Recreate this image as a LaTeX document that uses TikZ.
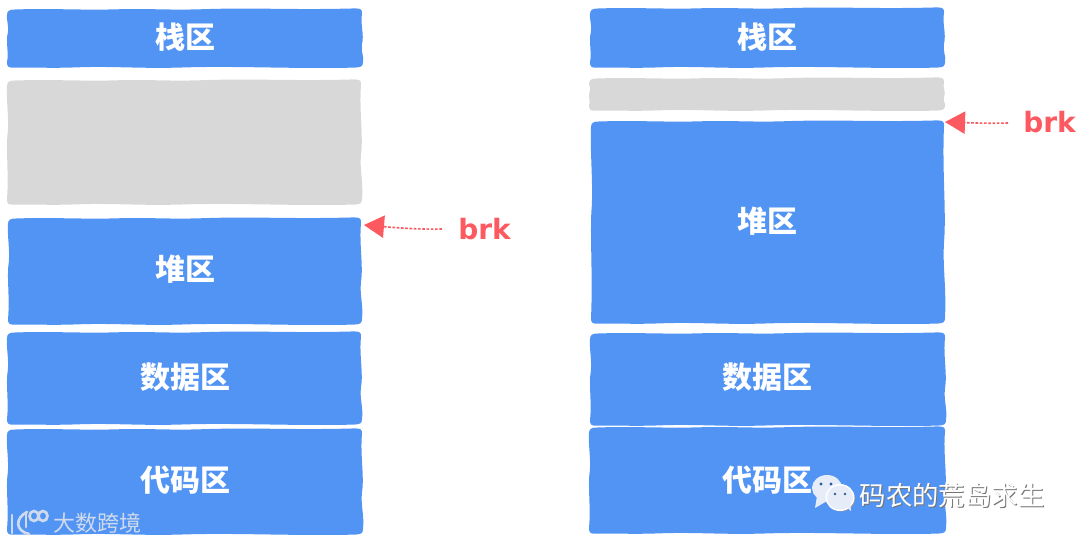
\documentclass[tikz,border=0pt]{standalone}
\usepackage{fontspec}
\usetikzlibrary{arrows.meta}
\setmainfont{DejaVu Sans}
\newfontfamily\cjk{Noto Sans CJK SC}
\definecolor{zblue}{HTML}{5294F4}
\definecolor{zgray}{HTML}{D8D8D8}
\definecolor{zred}{HTML}{FC5A60}
\definecolor{zmark}{HTML}{CFDAEC}
\definecolor{zbub}{HTML}{E6EDF9}
% wobbly box: x1 y1 x2 y2 colour
\newcommand{\wobbox}[5]{%
 \pgfmathsetmacro{\xa}{#1}\pgfmathsetmacro{\ya}{#2}\pgfmathsetmacro{\xb}{#3}\pgfmathsetmacro{\yb}{#4}%
 \pgfmathsetmacro{\w}{\xb-\xa}\pgfmathsetmacro{\h}{\yb-\ya}%
 \fill[#5] (\xa+8,\ya+1.5) .. controls (\xa+0.12*\w,\ya+0.2) and (\xa+0.2*\w,\ya+2.2) .. (\xa+0.3*\w,\ya+1.4)
  .. controls (\xa+0.4*\w,\ya+0.2) and (\xa+0.45*\w,\ya+2.4) .. (\xa+0.55*\w,\ya+1.2)
  .. controls (\xa+0.7*\w,\ya-0.6) and (\xa+0.8*\w,\ya+2.2) .. (\xb-8,\ya+0.4)
  .. controls (\xb-2,\ya+0.2) and (\xb-0.5,\ya+2) .. (\xb-1,\ya+6)
  .. controls (\xb-3,\ya+0.25*\h) and (\xb+1.5,\ya+0.45*\h) .. (\xb-1,\ya+0.6*\h)
  .. controls (\xb-2.5,\ya+0.72*\h) and (\xb+1.5,\ya+0.82*\h) .. (\xb,\yb-6)
  .. controls (\xb,\yb-1.5) and (\xb-2,\yb-0.8) .. (\xb-8,\yb-0.4)
  .. controls (\xa+0.8*\w,\yb+1) and (\xa+0.65*\w,\yb-2.2) .. (\xa+0.5*\w,\yb-0.6)
  .. controls (\xa+0.38*\w,\yb+0.9) and (\xa+0.3*\w,\yb-2) .. (\xa+0.2*\w,\yb-0.7)
  .. controls (\xa+0.12*\w,\yb+0.4) and (\xa+0.08*\w,\yb-0.8) .. (\xa+6,\yb-0.4)
  .. controls (\xa+1,\yb) and (\xa,\yb-2) .. (\xa,\yb-6)
  .. controls (\xa+2,\ya+0.75*\h) and (\xa-1.5,\ya+0.55*\h) .. (\xa+0.8,\ya+0.42*\h)
  .. controls (\xa+2,\ya+0.3*\h) and (\xa-1,\ya+0.15*\h) .. (\xa,\ya+7)
  .. controls (\xa,\ya+2.5) and (\xa+3,\ya+1.5) .. (\xa+8,\ya+1.5) -- cycle;}
\tikzset{
 zone/.style={font=\cjk\bfseries\fontsize{22.5}{24}\selectfont,text=white,inner sep=0pt,anchor=center},
 brklabel/.style={font=\bfseries\fontsize{21}{23}\selectfont,text=zred,inner sep=0pt,anchor=center},
 brkarrow/.style={draw=zred,line width=1.2pt,dash pattern=on 2pt off 1.2pt,-{Triangle[length=15pt,width=17pt,fill=zred,line width=0pt,sep=0pt]}},
 markA/.style={font=\cjk\fontsize{16.5}{18}\selectfont,text=zmark,inner sep=0pt},
 markB/.style={font=\cjk\fontsize{19.8}{21}\selectfont,text=white,inner sep=0pt},
 markS/.style={font=\cjk\fontsize{19.8}{21}\selectfont,text=black!55,inner sep=0pt},
}
\begin{document}
\begin{tikzpicture}[x=0.75pt,y=-0.75pt]
\useasboundingbox (0,0) rectangle (1080,543);
% left column
\wobbox{7}{8}{363}{68}{zblue}
\wobbox{7}{79}{362}{205}{zgray}
\wobbox{8}{217}{362}{325}{zblue}
\wobbox{7}{331}{362}{425}{zblue}
\wobbox{7}{428}{363}{535}{zblue}
% right column
\wobbox{590}{7}{945}{68}{zblue}
\wobbox{589}{77}{945}{111}{zgray}
\wobbox{591}{120}{945}{324}{zblue}
\wobbox{590}{332}{946}{426}{zblue}
\wobbox{589}{426}{946}{534}{zblue}
\node[zone] (l1) at (185,37) {栈区};
\node[zone] (l3) at (185,269) {堆区};
\node[zone] (l4) at (185,377) {数据区};
\node[zone] (l5) at (185,480) {代码区};
\node[zone] (r1) at (767,37) {栈区};
\node[zone] (r3) at (767,221) {堆区};
\node[zone] (r4) at (767,377) {数据区};
\node[zone] (r5) at (767,480) {代码区};
\coordinate (lt) at (364,225);
\coordinate (rt) at (945,122);
\node[brklabel] (lb) at (484.5,229.5) {brk};
\node[brklabel] (rb) at (1049.5,122.5) {brk};
\draw[brkarrow] (442,229) .. controls (420,229.5) and (400,228) .. (lt);
\draw[brkarrow] (1008,123) .. controls (990,123.5) and (975,123) .. (rt);
% watermark left
\begin{scope}[zmark,line width=2pt,line cap=round]
\draw (12,515) -- (12,533);
\draw (27,512) .. controls (15,518) and (15,531) .. (29,534);
\draw (26,514) -- (26,527);
\draw (34,516) ellipse[x radius=4.5,y radius=5];
\draw (43,516) ellipse[x radius=4.5,y radius=5];
\end{scope}
\node[markA] (wm) at (97,523) {大数跨境};
% watermark right: WeChat bubbles
\fill[zbub] (827,488) ellipse[x radius=15,y radius=13];
\fill[zbub] (817,496) -- (815,508) -- (827,501) -- cycle;
\fill[black!40] (841,499) ellipse[x radius=14,y radius=12.5];
\fill[white] (840,497.5) ellipse[x radius=14.5,y radius=13.5];
\fill[zbub] (840,497.5) ellipse[x radius=13,y radius=12];
\fill[zbub] (845,506) -- (851,511) -- (850,502) -- cycle;
\fill[zblue!60!black] (821,484) circle[radius=1.6] (831,484) circle[radius=1.6] (835,494) circle[radius=1.4] (845,494) circle[radius=1.4];
\node[markS] (ws) at (953,496.5) {码农的荒岛求生};
\node[markB] (wn) at (952,495) {码农的荒岛求生};
\end{tikzpicture}
\end{document}
